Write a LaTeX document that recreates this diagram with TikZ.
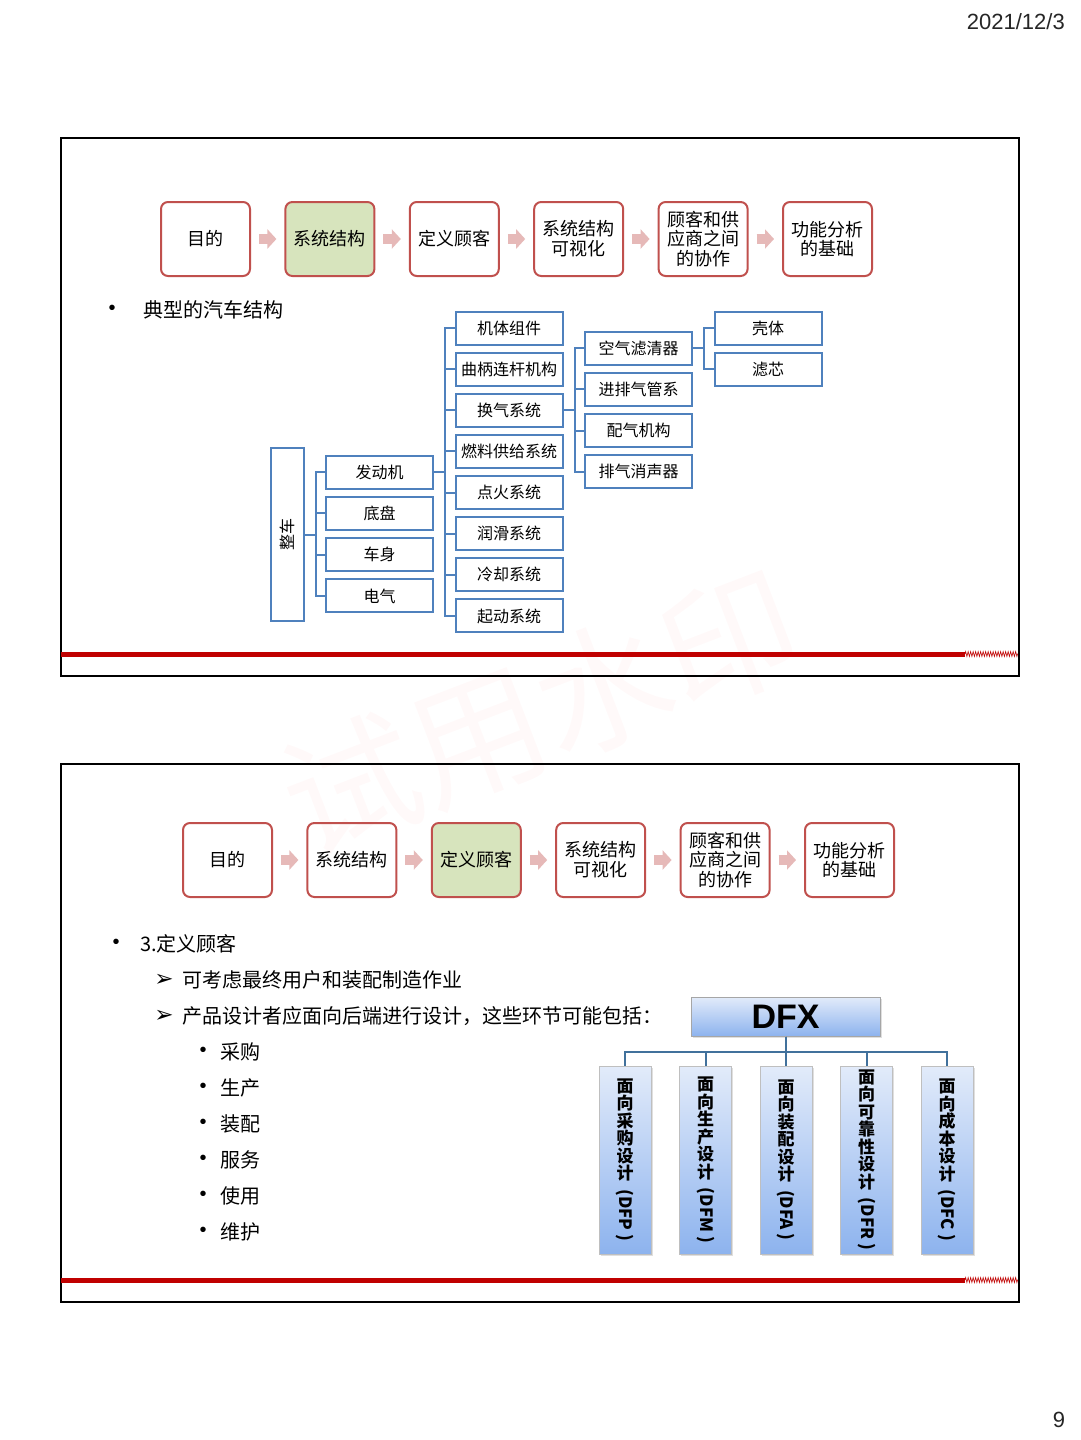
\documentclass[tikz,border=0pt]{standalone}
\usepackage{fontspec}
\setmainfont{Noto Sans CJK SC}
\newfontfamily\latinfont{Liberation Sans}
\newfontfamily\symfont{DejaVu Sans}
\usetikzlibrary{positioning,calc,shadows,arrows.meta,decorations.pathmorphing}

\definecolor{boxred}{RGB}{192,80,77}
\definecolor{curgreen}{RGB}{215,228,189}
\definecolor{arrowpink}{RGB}{230,185,184}
\definecolor{treeblue}{RGB}{79,129,189}
\definecolor{linkblue}{RGB}{65,113,156}
\definecolor{barred}{RGB}{192,0,0}
\definecolor{dfxtop}{RGB}{226,235,250}
\definecolor{dfxbot}{RGB}{141,179,238}

\tikzset{
  flowbox/.style={draw=boxred,line width=2pt,rounded corners=7pt,minimum width=89pt,minimum height=74pt,
    align=center,inner sep=2pt,font=\fontsize{18}{19.8}\selectfont},
  curbox/.style={flowbox,fill=curgreen},
  flowarrow/.style={arrowpink,line width=10pt,-{Triangle[length=9pt,width=19pt]}},
  partbox/.style={draw=treeblue,line width=2pt,minimum width=107pt,minimum height=33pt,inner sep=0pt,
    font=\fontsize{16}{17}\selectfont},
  treelink/.style={draw=treeblue,line width=2pt},
  plaintext/.style={anchor=west,inner sep=0pt,font=\fontsize{20}{24}\selectfont},
  dotmark/.style={inner sep=0pt,font=\latinfont\fontsize{20}{24}\selectfont},
  tipmark/.style={inner sep=0pt,font=\symfont\fontsize{23}{24}\selectfont},
  dfxhead/.style={draw=black!35,line width=1pt,top color=dfxtop,bottom color=dfxbot,minimum width=189pt,
    minimum height=39pt,inner sep=0pt,font=\latinfont\bfseries\fontsize{34}{34}\selectfont,
    drop shadow={opacity=0.25,shadow xshift=1.5pt,shadow yshift=-1.5pt}},
  dfxcol/.style={draw=black!25,line width=1pt,top color=dfxtop,bottom color=dfxbot,minimum width=52pt,
    minimum height=188pt,inner sep=0pt,align=center,font=\bfseries\fontsize{17}{17.5}\selectfont,
    drop shadow={opacity=0.25,shadow xshift=1.5pt,shadow yshift=-1.5pt}},
  dfxlink/.style={draw=linkblue,line width=2pt}
}

\begin{document}
\begin{tikzpicture}[x=1pt,y=-1pt]
  \fill[white] (0,0) rectangle (1080,1440);
  \useasboundingbox (0,0) rectangle (1080,1440);

  %date and page
  \node[anchor=east,inner sep=0pt,font=\latinfont\fontsize{22}{24}\selectfont,text=black!85] (date) at (1065,22) {2021/12/3};
  \node[inner sep=0pt,font=\latinfont\fontsize{22}{24}\selectfont,text=black!85] (page) at (1059,1420) {9};

  %watermark
  \node[rotate=21,opacity=0.025,text=red,inner sep=0pt,font=\fontsize{135}{135}\selectfont] (mark) at (540,712) {试用水印};

  % slide 1
  \draw[line width=2pt] (61,138) rectangle (1019,676);
  \draw[barred,line width=5pt] (61,654) -- (965,654);
  \draw[barred,line width=0.6pt,decorate,decoration={zigzag,segment length=2.5pt,amplitude=2.5pt}] (965,654) -- (1018,654);

  \foreach \txt [count=\i] in {目的,系统结构,定义顾客,{系统结构\\可视化},{顾客和供\\应商之间\\的协作},{功能分析\\的基础}}{
    \ifnum\i=2 \def\sty{curbox}\else\def\sty{flowbox}\fi
    \node[\sty] (a\i) at ({205.5+124.4*(\i-1)},239) {\txt};
  }
  \foreach \i [evaluate=\i as \j using int(\i+1)] in {1,...,5}
    \draw[flowarrow] ($(a\i.east)+(8,0)$) -- ($(a\j.west)+(-8,0)$);

  \node[dotmark] (bul1) at (112,310) {•};
  \node[plaintext] (head1) at (143,310) {典型的汽车结构};

  %car tree
  \node[partbox,minimum width=33pt,minimum height=173pt] (car) at (287.5,534.5) {\rotatebox{90}{整车}};
  \foreach \txt [count=\i] in {发动机,底盘,车身,电气}
    \node[partbox] (b\i) at (379.5,{472+41.3*(\i-1)}) {\txt};
  \foreach \txt [count=\i] in {机体组件,曲柄连杆机构,换气系统,燃料供给系统,点火系统,润滑系统,冷却系统,起动系统}
    \node[partbox] (c\i) at (509,{328+41.14*(\i-1)}) {\txt};
  \foreach \txt [count=\i] in {空气滤清器,进排气管系,配气机构,排气消声器}
    \node[partbox] (d\i) at (638.5,{348+41.3*(\i-1)}) {\txt};
  \foreach \txt [count=\i] in {壳体,滤芯}
    \node[partbox] (e\i) at (768,{328+41*(\i-1)}) {\txt};

  \foreach \i in {1,...,4} \draw[treelink] (car.east) -- ++(11,0) |- (b\i.west);
  \foreach \i in {1,...,8} \draw[treelink] (b1.east) -- ++(11,0) |- (c\i.west);
  \foreach \i in {1,...,4} \draw[treelink] (c3.east) -- ++(11,0) |- (d\i.west);
  \foreach \i in {1,2} \draw[treelink] (d1.east) -- ++(11,0) |- (e\i.west);

  % slide 2
  \draw[line width=2pt] (61,764) rectangle (1019,1302);
  \draw[barred,line width=5pt] (61,1280) -- (965,1280);
  \draw[barred,line width=0.6pt,decorate,decoration={zigzag,segment length=2.5pt,amplitude=2.5pt}] (965,1280) -- (1018,1280);

  \foreach \txt [count=\i] in {目的,系统结构,定义顾客,{系统结构\\可视化},{顾客和供\\应商之间\\的协作},{功能分析\\的基础}}{
    \ifnum\i=3 \def\sty{curbox}\else\def\sty{flowbox}\fi
    \node[\sty] (f\i) at ({227.5+124.4*(\i-1)},860) {\txt};
  }
  \foreach \i [evaluate=\i as \j using int(\i+1)] in {1,...,5}
    \draw[flowarrow] ($(f\i.east)+(8,0)$) -- ($(f\j.west)+(-8,0)$);

  \node[dotmark] (bul2) at (116,944) {•};
  \node[plaintext] (head2) at (140,944) {3.定义顾客};
  \node[tipmark] (tip1) at (164,980) {➢};
  \node[plaintext] (line1) at (182,980) {可考虑最终用户和装配制造作业};
  \node[tipmark] (tip2) at (164,1016) {➢};
  \node[plaintext] (line2) at (182,1016) {产品设计者应面向后端进行设计，这些环节可能包括：};
  \foreach \txt [count=\i] in {采购,生产,装配,服务,使用,维护}{
    \node[dotmark] (dot\i) at (203,{1052+36*(\i-1)}) {•};
    \node[plaintext] (sub\i) at (220,{1052+36*(\i-1)}) {\txt};
  }

  %dfx chart
  \node[dfxhead] (dfx) at (785.5,1016.5) {DFX};
  \foreach \txt [count=\i] in {{面\\向\\采\\购\\设\\计\\[-8pt] \rotatebox{-90}{(DFP )}},
      {面\\向\\生\\产\\设\\计\\[-8pt] \rotatebox{-90}{(DFM )}},
      {面\\向\\装\\配\\设\\计\\[-8pt] \rotatebox{-90}{(DFA )}},
      {面\\向\\可\\靠\\性\\设\\计\\[-8pt] \rotatebox{-90}{(DFR )}},
      {面\\向\\成\\本\\设\\计\\[-8pt] \rotatebox{-90}{(DFC )}}}
    \node[dfxcol] (g\i) at ({625+80.5*(\i-1)},1160) {\txt};
  \foreach \i in {1,...,5} \draw[dfxlink] (dfx.south) -- ++(0,15) -| (g\i.north);
\end{tikzpicture}
\end{document}
